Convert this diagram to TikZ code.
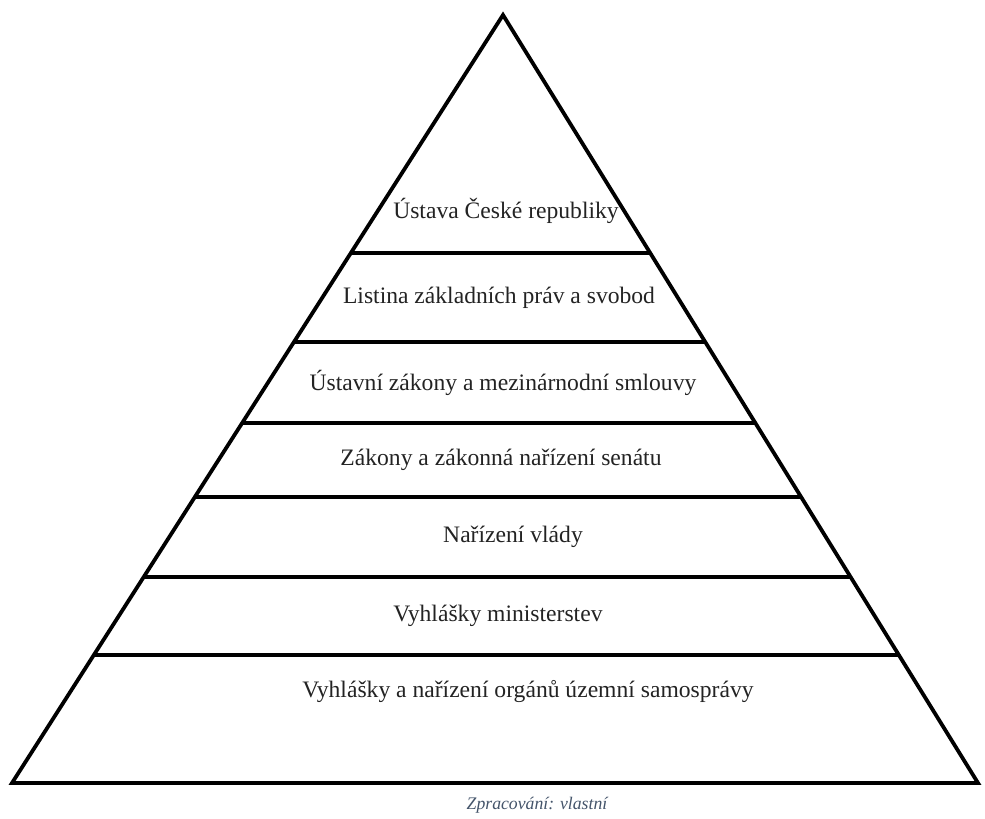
\documentclass[tikz,border=0pt]{standalone}
\usepackage{fontspec}
\setmainfont{Liberation Serif}
\usepackage{tikz}
\usetikzlibrary{calc}
\usetikzlibrary{positioning}
\definecolor{CaptionBlue}{RGB}{68,84,106}
\definecolor{TextGray}{RGB}{35,35,35}

\begin{document}
\begin{tikzpicture}[
 x=1pt, y=-1pt,
 side/.style = {line width=3.8pt, line join=miter, line cap=butt},
 layer/.style = {font=\fontsize{23.6}{28}\selectfont, text=TextGray, inner sep=0pt},
 caption/.style = {font=\fontsize{17.7}{21}\selectfont\itshape, text=CaptionBlue, inner sep=0pt},
                        ]
    \useasboundingbox (0,0) rectangle (985,819);

    \coordinate (apex) at (503,15);
    \coordinate (bl) at (12,783);
    \coordinate (br) at (978,783);
    \draw [side] (bl) -- (apex) -- (br) -- cycle;

    % layer borders
    \foreach \t [count=\i] in {0.3099,0.4258,0.5313,0.6276,0.7318,0.8333} {
        \coordinate (a\i) at ($(apex)!\t!(bl)$);
        \coordinate (b\i) at ($(apex)!\t!(br)$);
        \draw [side] (a\i) -- (b\i);
    }

    \node [layer] at (506,211) (ustava) {Ústava České republiky};
    \node [layer] at (499,298) (listina) {Listina základních práv a svobod};
    \node [layer] at (503,383) (ustzak) {Ústavní zákony a mezinárnodní smlouvy};
    \node [layer] at (501,460) (zakony) {Zákony a zákonná nařízení senátu};
    \node [layer] at (513,537) (narizeni) {Nařízení vlády};
    \node [layer] at (498,616) (vyhlmin) {Vyhlášky ministerstev};
    \node [layer] at (528,691) (vyhlorg) {Vyhlášky a nařízení orgánů územní samosprávy};

    \node [caption] at (537,805) (zdroj) {Zpracování: vlastní};

\end{tikzpicture}
\end{document}
